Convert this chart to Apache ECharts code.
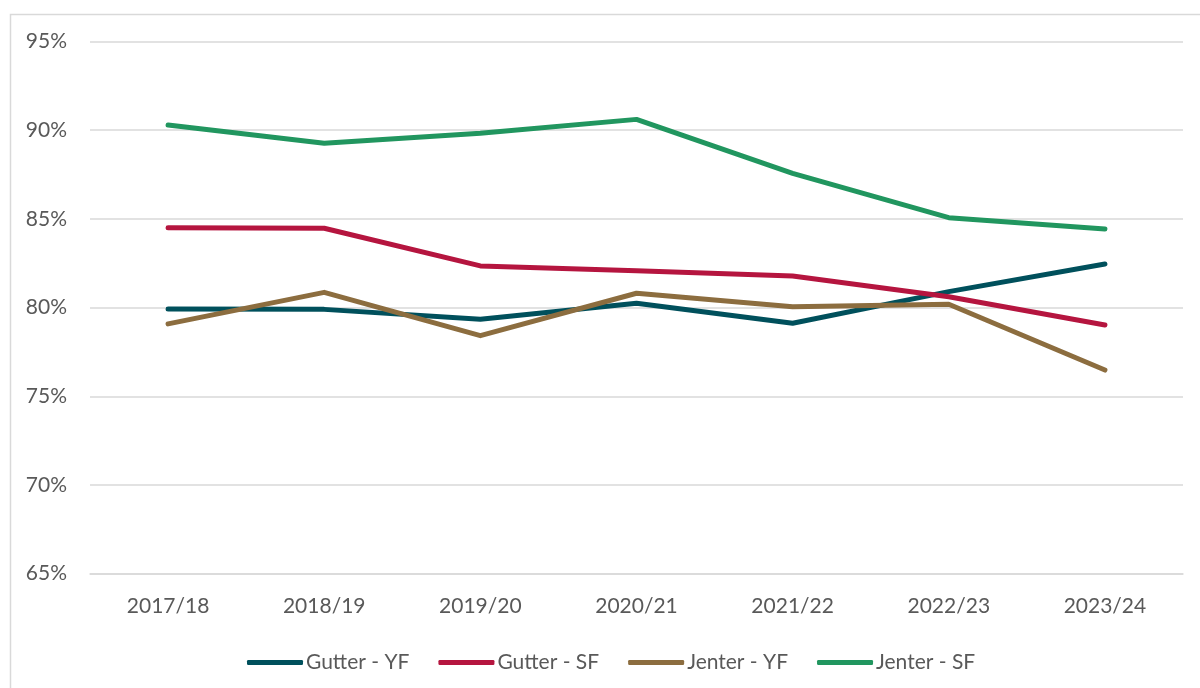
<!DOCTYPE html>
<html>
<head>
<meta charset="utf-8">
<script src="https://cdn.jsdelivr.net/npm/echarts@6/dist/echarts.min.js"></script>
<style>
  html, body { margin: 0; padding: 0; background: #fff; }
  #main { width: 1200px; height: 688px; }
</style>
</head>
<body>
<div id="main"></div>
<script>
var myChart = echarts.init(document.getElementById('main'));

var years = ['2017/18', '2018/19', '2019/20', '2020/21', '2021/22', '2022/23', '2023/24'];
var gutterYF = [79.92, 79.90, 79.34, 80.24, 79.12, 80.90, 82.46];
var gutterSF = [84.50, 84.47, 82.35, 82.08, 81.78, 80.61, 79.02];
var jenterYF = [79.08, 80.86, 78.42, 80.81, 80.05, 80.19, 76.48];
var jenterSF = [90.29, 89.26, 89.83, 90.61, 87.57, 85.07, 84.43];

var names = ['Gutter - YF', 'Gutter - SF', 'Jenter - YF', 'Jenter - SF'];
var colors = ['#00505c', '#b5153f', '#8c6d3f', '#21965f'];
var values = [gutterYF, gutterSF, jenterYF, jenterSF];

var font = 'Lato';

option = {
    color: colors,
    animation: false,
    graphic: [{
        type: 'rect',
        left: 8, top: 12,
        shape: { width: 1220, height: 700 },
        style: { fill: 'none', stroke: '#d9d9d9', lineWidth: 1.5 }
    }],
    grid: { left: 90, right: 17, top: 41.5, bottom: 114.3 },
    legend: {
        left: 242,
        top: 647,
        itemWidth: 56,
        itemHeight: 5,
        itemGap: 29,
        icon: 'roundRect',
        textStyle: { fontFamily: font, fontSize: 21, color: '#595959', padding: [0, 0, 0, -2] },
        data: names
    },
    xAxis: {
        type: 'category',
        data: years,
        boundaryGap: true,
        axisLine: { lineStyle: { color: '#d9d9d9', width: 1.5 } },
        axisTick: { show: false },
        axisLabel: { fontFamily: font, fontSize: 21, color: '#595959', margin: 22 }
    },
    yAxis: {
        type: 'value',
        min: 65, max: 95, interval: 5,
        axisLine: { show: false },
        axisTick: { show: false },
        splitLine: { lineStyle: { color: '#d9d9d9', width: 1.5 } },
        axisLabel: {
            fontFamily: font, fontSize: 21, color: '#595959', margin: 23,
            formatter: function (v) { return v + '%'; }
        }
    },
    series: names.map(function (n, k) {
        return {
            name: n,
            type: 'line',
            data: values[k],
            symbol: 'none',
            lineStyle: { width: 5, cap: 'round', join: 'round' }
        };
    })
};
myChart.setOption(option);
</script>
</body>
</html>
